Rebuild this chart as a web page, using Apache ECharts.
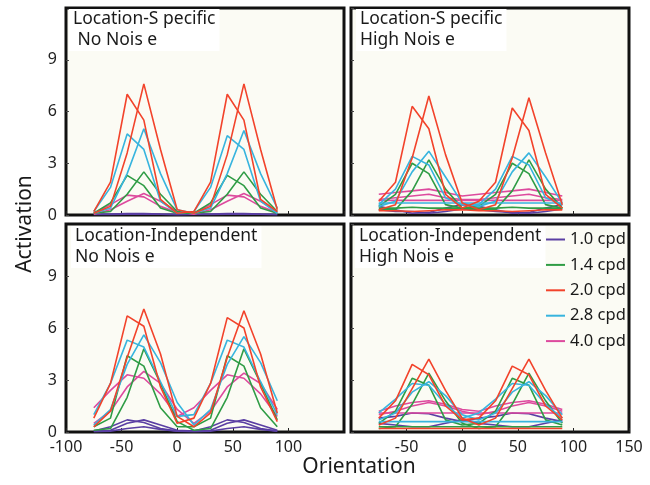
<!DOCTYPE html>
<html>
<head>
<meta charset="utf-8">
<script src="https://cdn.jsdelivr.net/npm/echarts@6/dist/echarts.min.js"></script>
<style>
  html, body { margin: 0; padding: 0; background: #fff; }
  #main { width: 650px; height: 485px; }
</style>
</head>
<body>
<div id="main"></div>
<script>
// orientation samples (deg)
const orientation = [-75, -60, -45, -30, -15, 0, 15, 30, 45, 60, 75, 90];
const freqNames = ['1.0 cpd', '1.4 cpd', '2.0 cpd', '2.8 cpd', '4.0 cpd'];
const freqColors = ['#5a3fa3', '#2f9c45', '#f2432b', '#37b4de', '#dd4a9e'];
const panelTitles = [
  'Location-S pecific\n No Nois e',
  'Location-S pecific\nHigh Nois e',
  'Location-Independent\nNo Nois e',
  'Location-Independent\nHigh Nois e'
];
const xTicks = [-100, -50, 0, 50, 100, 150];
const yTicks = [0, 3, 6, 9, 12];

// panel 1: location-specific, no noise
const p1_10 = [
  [0.05, 0.05, 0.08, 0.08, 0.05, 0.03, 0.05, 0.05, 0.08, 0.08, 0.05, 0.03],
  [0.03, 0.03, 0.05, 0.06, 0.04, 0.02, 0.03, 0.03, 0.05, 0.06, 0.04, 0.02]
];
const p1_14 = [
  [0.1, 0.7, 2.3, 1.7, 0.4, 0.1, 0.1, 0.7, 2.3, 1.7, 0.4, 0.1],
  [0.1, 0.2, 1.2, 2.5, 1.2, 0.2, 0.1, 0.2, 1.2, 2.5, 1.2, 0.2]
];
const p1_20 = [
  [0.2, 1.9, 7.0, 5.5, 0.9, 0.1, 0.2, 1.9, 7.0, 5.5, 0.9, 0.2],
  [0.1, 0.5, 3.6, 7.6, 3.8, 0.3, 0.1, 0.5, 3.5, 7.6, 3.8, 0.3]
];
const p1_28 = [
  [0.2, 1.6, 4.7, 3.8, 0.8, 0.1, 0.2, 1.6, 4.6, 3.8, 0.8, 0.1],
  [0.1, 0.4, 2.4, 5.0, 2.4, 0.3, 0.1, 0.4, 2.4, 4.9, 2.4, 0.4]
];
const p1_40 = [
  [0.1, 0.6, 1.15, 1.05, 0.5, 0.15, 0.1, 0.6, 1.15, 1.05, 0.5, 0.15],
  [0.05, 0.3, 0.8, 1.25, 0.8, 0.2, 0.05, 0.3, 0.8, 1.25, 0.8, 0.2]
];

// panel 2: location-specific, high noise
const p2_10 = [
  [0.5, 0.3, 0.1, 0.15, 0.4, 0.6, 0.5, 0.3, 0.1, 0.15, 0.4, 0.6],
  [0.3, 0.2, 0.2, 0.1, 0.2, 0.35, 0.3, 0.2, 0.15, 0.1, 0.2, 0.35]
];
const p2_14 = [
  [0.5, 1.2, 3.0, 2.4, 0.6, 0.4, 0.5, 1.2, 3.0, 2.4, 0.6, 0.4],
  [0.3, 0.3, 1.4, 3.2, 1.5, 0.4, 0.3, 0.3, 1.4, 3.2, 1.5, 0.4],
  [0.4, 0.4, 0.45, 0.4, 0.4, 0.4, 0.4, 0.4, 0.45, 0.4, 0.4, 0.4]
];
const p2_20 = [
  [0.8, 1.9, 6.3, 5.0, 1.2, 0.4, 0.8, 1.9, 6.2, 4.9, 1.2, 0.4],
  [0.3, 0.6, 3.3, 6.9, 3.5, 0.7, 0.3, 0.6, 3.3, 6.8, 3.6, 0.6],
  [0.25, 0.25, 0.2, 0.25, 0.3, 0.3, 0.25, 0.25, 0.2, 0.25, 0.3, 0.3]
];
const p2_28 = [
  [0.6, 1.5, 3.4, 2.9, 1.0, 0.6, 0.6, 1.5, 3.4, 2.9, 1.0, 0.6],
  [0.5, 0.8, 2.5, 3.7, 2.2, 0.7, 0.5, 0.8, 2.5, 3.6, 2.2, 0.7],
  [0.7, 0.7, 0.7, 0.7, 0.7, 0.7, 0.7, 0.7, 0.7, 0.7, 0.7, 0.7]
];
const p2_40 = [
  [1.2, 1.3, 1.4, 1.5, 1.3, 1.1, 1.2, 1.3, 1.4, 1.5, 1.3, 1.1],
  [0.9, 1.0, 1.1, 1.2, 1.0, 0.9, 0.9, 1.0, 1.1, 1.2, 1.0, 0.9],
  [0.85, 0.85, 0.85, 0.85, 0.85, 0.85, 0.85, 0.85, 0.85, 0.85, 0.85, 0.85]
];

// panel 3: location-independent, no noise
const p3_10 = [
  [0.05, 0.3, 0.7, 0.55, 0.2, 0.05, 0.05, 0.3, 0.7, 0.55, 0.2, 0.05],
  [0.05, 0.1, 0.5, 0.7, 0.4, 0.1, 0.05, 0.1, 0.5, 0.7, 0.4, 0.1],
  [0.02, 0.05, 0.2, 0.3, 0.15, 0.05, 0.02, 0.05, 0.2, 0.3, 0.15, 0.05]
];
const p3_14 = [
  [0.3, 0.8, 4.4, 3.8, 1.4, 0.3, 0.3, 0.8, 4.4, 3.8, 1.4, 0.3],
  [0.1, 0.2, 2.0, 4.8, 2.8, 0.6, 0.1, 0.2, 2.0, 4.8, 2.8, 0.7]
];
const p3_20 = [
  [0.8, 2.8, 6.7, 6.1, 2.6, 0.5, 0.8, 2.8, 6.6, 6.0, 2.6, 0.6],
  [0.3, 1.2, 4.3, 7.1, 4.5, 0.9, 0.3, 1.1, 4.3, 7.0, 4.5, 1.1]
];
const p3_28 = [
  [1.0, 2.8, 5.3, 4.9, 2.9, 0.9, 1.0, 2.8, 5.3, 4.9, 2.9, 1.0],
  [0.4, 1.3, 3.9, 5.6, 4.0, 1.7, 0.4, 1.3, 3.9, 5.5, 4.0, 1.8]
];
const p3_40 = [
  [1.4, 2.4, 3.3, 3.1, 2.2, 0.9, 1.4, 2.4, 3.3, 3.1, 2.2, 0.9],
  [0.5, 1.2, 2.6, 3.5, 2.8, 1.3, 0.5, 1.2, 2.6, 3.4, 2.8, 1.3]
];

// panel 4: location-independent, high noise
const p4_10 = [
  [0.8, 0.9, 1.1, 1.05, 0.8, 0.6, 0.8, 0.9, 1.1, 1.05, 0.8, 0.6],
  [0.5, 0.4, 0.3, 0.3, 0.5, 0.7, 0.5, 0.4, 0.3, 0.3, 0.5, 0.7]
];
const p4_14 = [
  [0.5, 1.2, 3.1, 2.7, 0.7, 0.4, 0.5, 1.2, 3.1, 2.7, 0.7, 0.4],
  [0.2, 0.3, 1.6, 3.4, 1.8, 0.5, 0.2, 0.3, 1.6, 3.4, 1.8, 0.5],
  [0.3, 0.3, 0.3, 0.3, 0.3, 0.3, 0.3, 0.3, 0.3, 0.3, 0.3, 0.3]
];
const p4_20 = [
  [0.8, 1.8, 3.9, 3.3, 1.5, 0.7, 0.8, 1.8, 3.8, 3.3, 1.5, 0.7],
  [0.4, 0.8, 2.5, 4.2, 2.4, 0.8, 0.4, 0.8, 2.5, 4.2, 2.4, 0.8],
  [0.2, 0.2, 0.2, 0.2, 0.2, 0.2, 0.2, 0.2, 0.2, 0.2, 0.2, 0.2]
];
const p4_28 = [
  [1.1, 1.9, 2.8, 2.7, 1.6, 0.8, 1.1, 1.9, 2.8, 2.7, 1.6, 0.8],
  [0.7, 1.1, 2.3, 2.9, 2.1, 1.0, 0.7, 1.1, 2.3, 2.9, 2.1, 1.0],
  [0.6, 0.6, 0.6, 0.6, 0.6, 0.6, 0.6, 0.6, 0.6, 0.6, 0.6, 0.6]
];
const p4_40 = [
  [1.2, 1.5, 1.7, 1.8, 1.6, 1.3, 1.2, 1.5, 1.7, 1.8, 1.6, 1.3],
  [1.0, 1.2, 1.5, 1.7, 1.5, 1.2, 1.0, 1.2, 1.5, 1.7, 1.5, 1.2],
  [1.1, 1.1, 1.1, 1.1, 1.1, 1.1, 1.1, 1.1, 1.1, 1.1, 1.1, 1.1]
];

const panels = [
  [p1_10, p1_14, p1_20, p1_28, p1_40],
  [p2_10, p2_14, p2_20, p2_28, p2_40],
  [p3_10, p3_14, p3_20, p3_28, p3_40],
  [p4_10, p4_14, p4_20, p4_28, p4_40]
];

const font = '"Noto Sans", "DejaVu Sans", sans-serif';
const gridPos = [
  { left: 66, top: 8, width: 278, height: 207 },
  { left: 351, top: 8, width: 278, height: 207 },
  { left: 66, top: 224, width: 278, height: 208 },
  { left: 351, top: 224, width: 278, height: 208 }
];
const titlePos = [[69, 9], [356, 9], [71, 226], [355, 226]];
// draw order: purple, magenta, green, cyan, red on top
const drawOrder = [0, 4, 1, 3, 2];

let grids = [], xAxes = [], yAxes = [], titles = [], series = [];
gridPos.forEach((g, i) => {
  grids.push(Object.assign({
    show: true, backgroundColor: '#fbfbf4', borderColor: '#111', borderWidth: 3
  }, g));
  xAxes.push({
    type: 'value', gridIndex: i, min: xTicks[0], max: xTicks[xTicks.length - 1], interval: 50,
    splitLine: { show: false },
    axisLine: { show: false, onZero: false },
    axisTick: { show: true, inside: true, length: 4, lineStyle: { color: '#222' } },
    axisLabel: {
      show: i >= 2, margin: 7, fontSize: 16, color: '#222', fontFamily: font,
      showMinLabel: i === 2, showMaxLabel: i === 3
    }
  });
  yAxes.push({
    type: 'value', gridIndex: i, min: yTicks[0], max: yTicks[yTicks.length - 1], interval: 3,
    splitLine: { show: false },
    axisLine: { show: false, onZero: false },
    axisTick: { show: true, inside: true, length: 3, lineStyle: { color: '#444' } },
    axisLabel: {
      show: i % 2 === 0, margin: 9, fontSize: 16, color: '#222', fontFamily: font,
      showMaxLabel: false
    }
  });
  titles.push({
    text: panelTitles[i], left: titlePos[i][0], top: titlePos[i][1],
    backgroundColor: '#fff', padding: [0, 4],
    textStyle: { fontSize: 17.5, fontWeight: 'normal', color: '#1a1a1a', lineHeight: 21, fontFamily: font }
  });
  drawOrder.forEach(f => {
    panels[i][f].forEach(line => {
      series.push({
        type: 'line', name: freqNames[f], xAxisIndex: i, yAxisIndex: i,
        data: orientation.map((x, k) => [x, line[k]]),
        symbol: 'none', color: freqColors[f],
        lineStyle: { width: 1.6, color: freqColors[f] },
        silent: true
      });
    });
  });
});

const myChart = echarts.init(document.getElementById('main'));
myChart.setOption({
  animation: false,
  backgroundColor: '#fff',
  title: titles,
  grid: grids,
  xAxis: xAxes,
  yAxis: yAxes,
  legend: {
    data: freqNames,
    orient: 'vertical',
    left: 541, top: 226,
    icon: 'rect', itemWidth: 19, itemHeight: 2, itemGap: 8.4,
    textStyle: { fontSize: 16.5, color: '#1a1a1a', fontFamily: font, lineHeight: 17 }
  },
  graphic: [
    {
      type: 'text', x: 25, y: 224, rotation: Math.PI / 2,
      style: { text: 'Activation', fontSize: 21, fill: '#1a1a1a', fontFamily: font,
        align: 'center', verticalAlign: 'middle' }
    },
    {
      type: 'text', x: 359, y: 467,
      style: { text: 'Orientation', fontSize: 21, fill: '#1a1a1a', fontFamily: font,
        align: 'center', verticalAlign: 'middle' }
    }
  ],
  series: series
});
</script>
</body>
</html>
